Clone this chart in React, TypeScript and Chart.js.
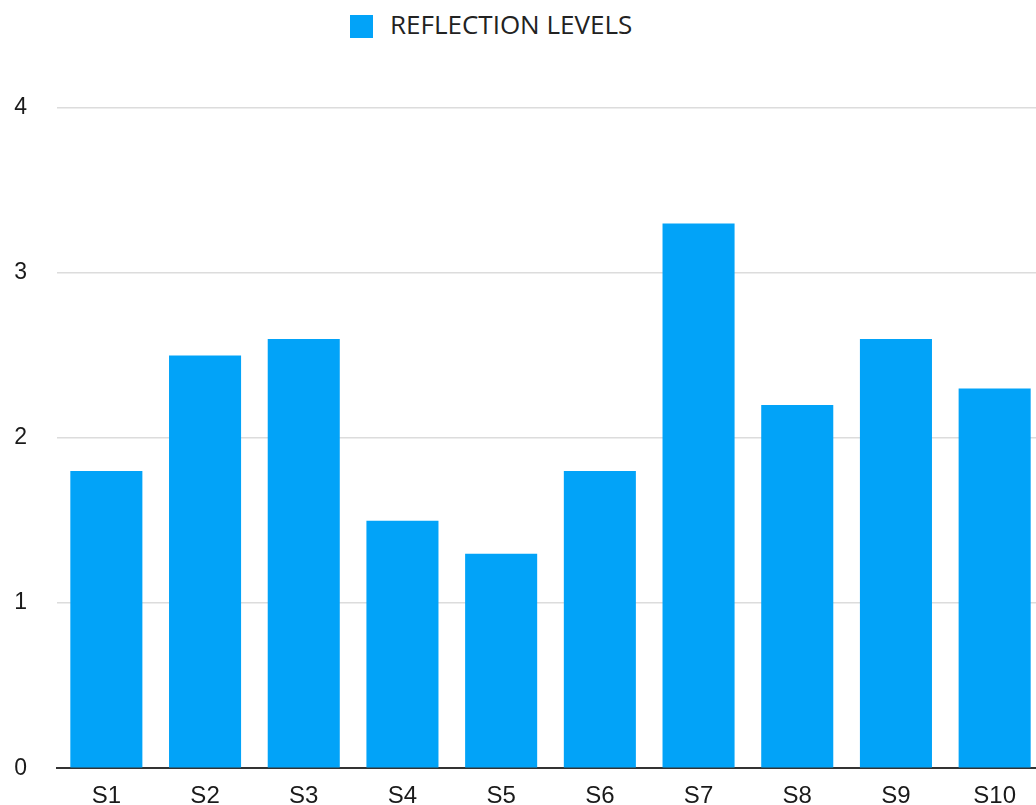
import React, { useEffect, useRef } from "react";
import { Chart, registerables } from "chart.js";

Chart.register(...registerables);

const categories = ["S1", "S2", "S3", "S4", "S5", "S6", "S7", "S8", "S9", "S10"];
const reflectionLevels = [1.8, 2.5, 2.6, 1.5, 1.3, 1.8, 3.3, 2.2, 2.6, 2.3];
const yTicks = [0, 1, 2, 3, 4];
const seriesLabel = "REFLECTION LEVELS";
const barColor = "#02A3F8";
const targetBottom = 768;

export default function App() {
  const ref = useRef<HTMLCanvasElement | null>(null);
  useEffect(() => {
    if (!ref.current) return;
    const chart = new Chart(ref.current, {
      type: "bar",
      data: {
        labels: categories,
        datasets: [
          {
            label: seriesLabel,
            data: reflectionLevels,
            backgroundColor: barColor,
            borderWidth: 0,
            barPercentage: 0.73,
            categoryPercentage: 1,
          },
        ],
      },
      options: {
        responsive: false,
        animation: false,
        devicePixelRatio: 1,
        layout: { padding: { top: 108, left: 0, right: 0, bottom: 0 } },
        plugins: { legend: { display: false }, tooltip: { enabled: false } },
        scales: {
          x: {
            grid: { display: false, drawTicks: false },
            border: { display: true, color: "#333", width: 2 },
            ticks: {
              color: "#1a1a1a",
              padding: 14,
              font: { family: "Liberation Sans, Arial, sans-serif", size: 24 },
            },
          },
          y: {
            min: 0,
            max: 4,
            afterBuildTicks: (s: any) => {
              s.ticks = yTicks.map((v) => ({ value: v }));
            },
            grid: {
              drawTicks: false,
              color: (c: any) => (c.tick && c.tick.value === 0 ? "rgba(0,0,0,0)" : "#dcdcdc"),
              lineWidth: 1.5,
            },
            border: { display: false },
            ticks: {
              color: "#1a1a1a",
              padding: 30,
              font: { family: "Liberation Sans, Arial, sans-serif", size: 23 },
            },
            afterFit: (s: any) => {
              s.width = 57;
            },
          },
        },
      },
    });
    const pad: any = (chart.options as any).layout.padding;
    for (let i = 0; i < 6; i++) {
      const diff = Math.round(chart.chartArea.bottom - targetBottom);
      if (diff === 0) break;
      pad.bottom = (pad.bottom || 0) + diff;
      chart.update();
    }
    return () => chart.destroy();
  }, []);

  return (
    <div
      style={{
        position: "fixed",
        left: 0,
        top: 0,
        width: 1036,
        height: 805,
        overflow: "hidden",
        background: "#fff",
      }}
    >
      <div
        style={{
          position: "absolute",
          left: 350,
          top: 8,
          display: "flex",
          alignItems: "center",
          fontFamily: "'Open Sans', sans-serif",
          fontSize: 26,
          color: "#222",
          whiteSpace: "nowrap",
        }}
      >
        <span
          style={{
            display: "inline-block",
            width: 23,
            height: 23,
            background: barColor,
            marginRight: 17,
          }}
        />
        <span style={{ position: "relative", top: -2 }}>{seriesLabel}</span>
      </div>
      <canvas ref={ref} width={1044} height={812} style={{ position: "absolute", left: 0, top: 0 }} />
    </div>
  );
}
